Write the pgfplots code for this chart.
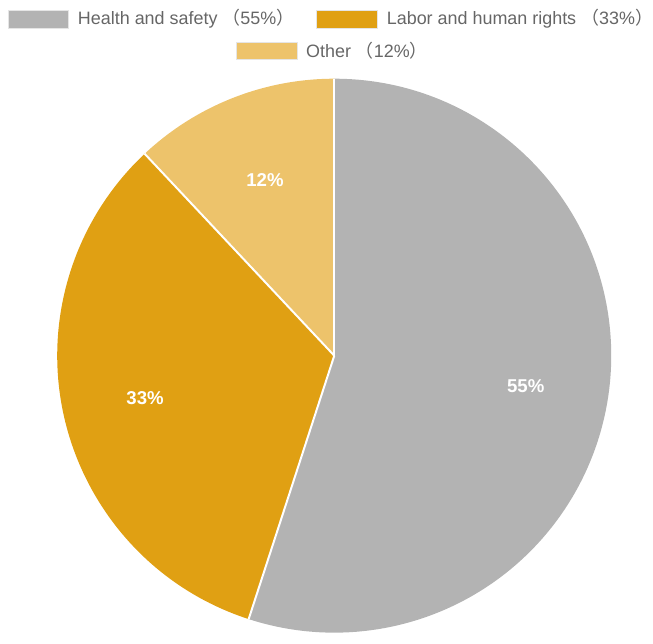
\documentclass[border=0pt]{standalone}
\usepackage{pgfplots}
\pgfplotsset{compat=1.18}
\usetikzlibrary{calc}
\usepackage{fontspec}
\setmainfont{Liberation Sans}
\newfontfamily\cjk{Noto Sans CJK SC}
\definecolor{cHealth}{HTML}{B3B3B3}
\definecolor{cLabor}{HTML}{E0A013}
\definecolor{cOther}{HTML}{EDC36B}
\definecolor{legtext}{HTML}{666666}
\begin{document}
\begin{tikzpicture}
% slice values (percent)
\def\vA{55}\def\vB{33}\def\vC{12}
\pgfmathsetmacro\aA{90}
\pgfmathsetmacro\aB{90-3.6*\vA}
\pgfmathsetmacro\aC{\aB-3.6*\vB}
\pgfmathsetmacro\aD{\aC-3.6*\vC}
\pgfmathsetmacro\mA{(\aA+\aB)/2}
\pgfmathsetmacro\mB{(\aB+\aC)/2}
\pgfmathsetmacro\mC{(\aC+\aD)/2}
\def\R{208.5pt}
\begin{axis}[
  scale only axis, width=489.75pt, height=477pt,
  xmin=0, xmax=653, ymin=0, ymax=636,
  hide axis, clip=false]
\path (axis cs:0,0) rectangle (axis cs:653,636);
% pie slices
\fill[cHealth] (axis cs:335.5,279) -- ++(\aA:\R) arc[start angle=\aA, end angle=\aB, radius=\R] -- cycle;
\fill[cLabor] (axis cs:335.5,279) -- ++(\aB:\R) arc[start angle=\aB, end angle=\aC, radius=\R] -- cycle;
\fill[cOther] (axis cs:335.5,279) -- ++(\aC:\R) arc[start angle=\aC, end angle=\aD, radius=\R] -- cycle;
\draw[white, line width=1.5pt] (axis cs:335.5,279) -- ++(\aA:\R);
\draw[white, line width=1.5pt] (axis cs:335.5,279) -- ++(\aB:\R);
\draw[white, line width=1.5pt] (axis cs:335.5,279) -- ++(\aC:\R);
% labels
\node[text=white, font=\fontsize{14}{16}\selectfont\bfseries] at ($(axis cs:335.5,279)+(\mA:0.7*\R)$) {55\%};
\node[text=white, font=\fontsize{14}{16}\selectfont\bfseries] at ($(axis cs:335.5,279)+(\mB:0.7*\R)$) {33\%};
\node[text=white, font=\fontsize{14}{16}\selectfont\bfseries] at ($(axis cs:335.5,279)+(\mC:0.68*\R)$) {12\%};
% legend
\filldraw[fill=cHealth, draw=black!10, line width=0.5pt] (axis cs:8,608) rectangle (axis cs:69,626);
\node[anchor=west, text=legtext, font=\fontsize{13.5}{16}\selectfont, inner sep=0pt] at (axis cs:78,617) {Health and safety {\cjk （}55\%{\cjk ）}};
\filldraw[fill=cLabor, draw=black!10, line width=0.5pt] (axis cs:318,608) rectangle (axis cs:379,626);
\node[anchor=west, text=legtext, font=\fontsize{13.5}{16}\selectfont, inner sep=0pt] at (axis cs:388,617) {Labor and human rights {\cjk （}33\%{\cjk ）}};
\filldraw[fill=cOther, draw=black!10, line width=0.5pt] (axis cs:237,576) rectangle (axis cs:298,594);
\node[anchor=west, text=legtext, font=\fontsize{13.5}{16}\selectfont, inner sep=0pt] at (axis cs:307,585) {Other {\cjk （}12\%{\cjk ）}};
\end{axis}
\end{tikzpicture}
\end{document}
